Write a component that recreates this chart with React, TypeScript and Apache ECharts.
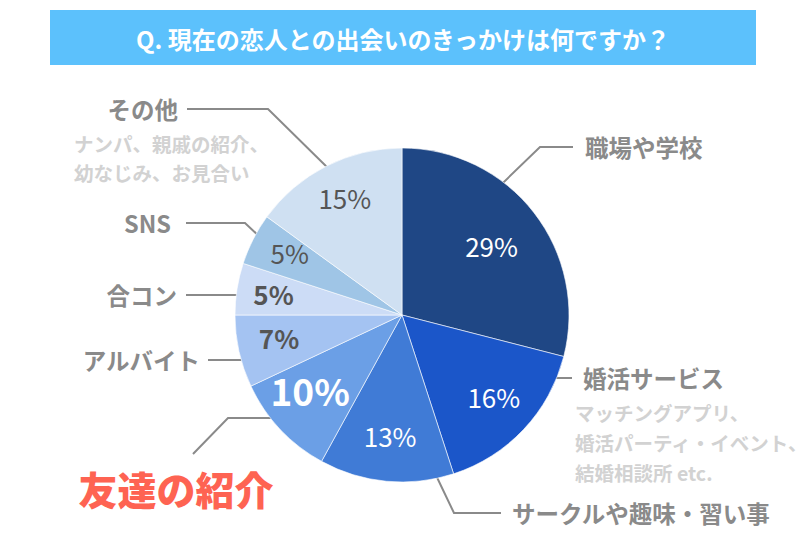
import React, { useEffect, useRef } from "react";
import * as echarts from "echarts";

const title = "Q. 現在の恋人との出会いのきっかけは何ですか？";
const categories = ["職場や学校", "婚活サービス", "サークルや趣味・習い事", "友達の紹介", "アルバイト", "合コン", "SNS", "その他"];
const values = [29, 16, 13, 10, 7, 5, 5, 15];
const sliceColors = ["#1f4785", "#1b56c9", "#407bd6", "#6b9fe6", "#a4c3f2", "#ccdcf6", "#9fc5e6", "#cfe0f2"];
const otherNotes = ["ナンパ、親戚の紹介、", "幼なじみ、お見合い"];
const konkatsuNotes = ["マッチングアプリ、", "婚活パーティ・イベント、", "結婚相談所 etc."];

const FONT = "'Noto Sans CJK JP', 'Noto Sans', sans-serif";
const GRAY = "#8a8a8a";
const LIGHT = "#d2d2d2";

const pctStyle: Record<number, any> = {
  0: { color: "#fff", fontSize: 26, fontWeight: "normal", offset: [-10, 8] },
  1: { color: "#fff", fontSize: 26, fontWeight: "normal" },
  2: { color: "#fff", fontSize: 26, fontWeight: "normal" },
  3: { color: "#fff", fontSize: 37, fontWeight: "bold", offset: [0, -11] },
  4: { color: "#555", fontSize: 26, fontWeight: "bold" },
  5: { color: "#555", fontSize: 26, fontWeight: "bold", offset: [-4, -2] },
  6: { color: "#555", fontSize: 26, fontWeight: "normal" },
  7: { color: "#555", fontSize: 26, fontWeight: "normal" },
};

function txt(text: string, x: number, y: number, size: number, color: string, align: string, weight: any = "bold") {
  return {
    type: "text",
    silent: true,
    style: { text, x, y, fill: color, fontSize: size, fontWeight: weight, fontFamily: FONT, textAlign: align, textVerticalAlign: "middle" },
  };
}
function line(points: number[][]) {
  return { type: "polyline", silent: true, shape: { points }, style: { stroke: GRAY, lineWidth: 2, fill: "none" } };
}

export default function App() {
  const ref = useRef<HTMLDivElement>(null);
  useEffect(() => {
    if (!ref.current) return;
    const chart = echarts.init(ref.current, null, { renderer: "svg" });
    const data = categories.map((name, i) => ({ name, value: values[i], itemStyle: { color: sliceColors[i] } }));
    const labelData = categories.map((name, i) => ({
      name,
      value: values[i],
      label: { offset: [0, -5], ...pctStyle[i], fontFamily: FONT },
    }));
    chart.setOption({
      animation: false,
      backgroundColor: "#ffffff",
      series: [
        {
          type: "pie",
          center: [402, 315],
          radius: [0, 167],
          startAngle: 90,
          clockwise: true,
          silent: true,
          data,
          itemStyle: { borderColor: "rgba(255,255,255,0.6)", borderWidth: 1 },
          label: { show: false },
          labelLine: { show: false },
        },
        {
          type: "pie",
          center: [402, 315],
          radius: [0, 246],
          startAngle: 90,
          clockwise: true,
          silent: true,
          z: 5,
          data: labelData,
          itemStyle: { color: "rgba(0,0,0,0)" },
          label: { show: true, position: "inside", formatter: "{c}%" },
          labelLine: { show: false },
        },
      ],
      graphic: [
        { type: "rect", silent: true, shape: { x: 50, y: 10, width: 706, height: 55 }, style: { fill: "#5cc1fc" } },
        txt(title, 403, 38, 24, "#ffffff", "center"),
        // 職場や学校
        line([[478, 207], [540, 147], [573, 147]]),
        txt(categories[0], 585, 147, 23.5, GRAY, "left"),
        // 婚活サービス
        line([[538, 378], [572, 378]]),
        txt(categories[1], 583, 378, 23.5, GRAY, "left"),
        ...konkatsuNotes.map((t, i) => txt(t, 575, 412 + i * 30, 19.5, LIGHT, "left")),
        // サークル
        line([[433, 469], [454, 513], [501, 513]]),
        txt(categories[2], 512, 513, 23.5, GRAY, "left"),
        // 友達の紹介
        line([[282, 418], [228, 418], [193, 454]]),
        txt(categories[3], 176, 488, 39, "#fe6352", "center", 900),
        // アルバイト
        line([[208, 360], [257, 360]]),
        txt(categories[4], 200, 360, 23.5, GRAY, "right"),
        // 合コン
        line([[186, 295], [248, 295]]),
        txt(categories[5], 177, 295, 23.5, GRAY, "right"),
        // SNS
        line([[186, 223], [245, 223], [260, 237]]),
        txt(categories[6], 171, 223, 23.5, GRAY, "right"),
        // その他
        line([[187, 109], [268, 109], [332, 172]]),
        txt(categories[7], 178, 109, 23.5, GRAY, "right"),
        ...otherNotes.map((t, i) => txt(t, 74, 143 + i * 29, 19.5, LIGHT, "left")),
      ],
    });
    return () => chart.dispose();
  }, []);
  return (
    <div style={{ position: "fixed", left: 0, top: 0, width: 810, height: 535, background: "#fff" }}>
      <div ref={ref} style={{ width: 810, height: 535 }} />
    </div>
  );
}
